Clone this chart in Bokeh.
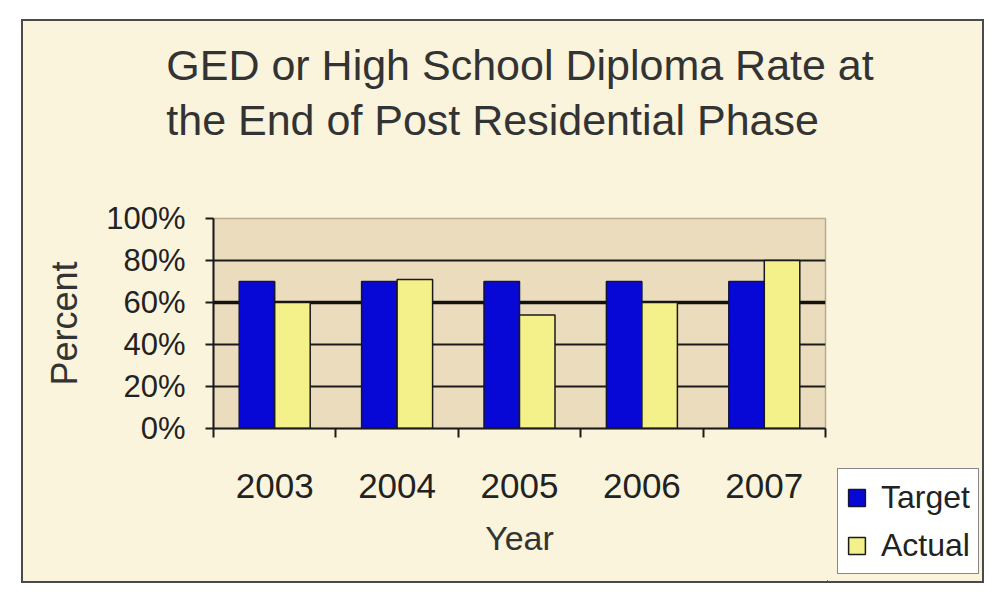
from bokeh.plotting import figure
from bokeh.layouts import row, column
from bokeh.models import (Range1d, FixedTicker, Grid, Legend, LegendItem,
                          ColumnDataSource, Spacer)
from bokeh.transform import dodge
from bokeh.embed import file_html
from bokeh.resources import INLINE

# ---- data ----
years = ["2003", "2004", "2005", "2006", "2007"]
target = [70, 70, 70, 70, 70]
actual = [60, 71, 54, 60, 80]
y_ticks = [0, 20, 40, 60, 80, 100]
title_lines = ["GED or High School Diploma Rate at",
               "the End of Post Residential Phase"]
series_names = ["Target", "Actual"]

FONT = "Liberation Sans"
CREAM = "#faf4dc"
BLUE = "#0707d6"
YELLOW = "#f4f08a"

pos = [i + 0.5 for i in range(len(years))]
src = ColumnDataSource(dict(x=pos, target=target, actual=actual, year=years))

# ---- title strip ----
top_gap = Spacer(width=959, height=17, styles={"background-color": CREAM})
t = figure(width=959, height=123, x_range=Range1d(0, 1), y_range=Range1d(0, 1),
           output_backend="svg", toolbar_location=None,
           x_axis_location=None, y_axis_location=None,
           min_border_left=34, min_border_right=0, min_border_top=0,
           min_border_bottom=0, background_fill_color=CREAM,
           border_fill_color=CREAM, outline_line_color=None)
t.frame_align = False
t.xgrid.grid_line_color = None
t.ygrid.grid_line_color = None
t.title.text = "\n".join(title_lines)
t.title.align = "center"
t.title.text_font = FONT
t.title.text_font_size = "43px"
t.title.text_font_style = "normal"
t.title.text_color = "#333333"
t.title.text_line_height = 1.16
t.title.standoff = 0

# ---- main chart ----
p = figure(width=804, height=420,
           x_range=Range1d(0, len(years)), y_range=Range1d(0, 100),
           output_backend="svg", toolbar_location=None, title_location=None,
           min_border_left=190, min_border_right=2,
           min_border_top=57, min_border_bottom=153,
           background_fill_color="#ecdcbe", border_fill_color=CREAM,
           outline_line_color="#b9aa8c", outline_line_width=1.5)
p.frame_align = False

r1 = p.vbar(x=dodge("x", -0.145, range=p.x_range), top="target", width=0.29,
            source=src, fill_color=BLUE, line_color="#15153a", line_width=1.5)
r2 = p.vbar(x=dodge("x", 0.145, range=p.x_range), top="actual", width=0.29,
            source=src, fill_color=YELLOW, line_color="#1a1a1a", line_width=1.5)

p.xgrid.grid_line_color = None
p.ygrid.ticker = FixedTicker(ticks=[20, 40, 80])
p.ygrid.grid_line_color = "#1a1a1a"
p.ygrid.grid_line_width = 2
g60 = Grid(dimension=1, ticker=FixedTicker(ticks=[60]),
           grid_line_color="#111111", grid_line_width=3.5)
p.add_layout(g60)

ya = p.yaxis[0]
ya.ticker = FixedTicker(ticks=y_ticks, minor_ticks=[])
ya.major_label_overrides = {v: f"{v}%" for v in y_ticks}
ya.axis_line_width = 2
ya.axis_line_color = "#1a1a1a"
ya.major_tick_line_width = 2
ya.major_tick_line_color = "#1a1a1a"
ya.major_tick_out = 8
ya.major_tick_in = 0
ya.major_label_standoff = 20
ya.major_label_text_font = FONT
ya.major_label_text_font_size = "31px"
ya.major_label_text_color = "#222222"
ya.axis_label = "Percent"
ya.axis_label_text_font = FONT
ya.axis_label_text_font_size = "36px"
ya.axis_label_text_font_style = "normal"
ya.axis_label_text_color = "#333333"
ya.axis_label_standoff = 18

xa = p.xaxis[0]
xa.ticker = FixedTicker(ticks=pos, minor_ticks=list(range(len(years) + 1)))
xa.major_label_overrides = {pos[i]: years[i] for i in range(len(years))}
xa.axis_line_width = 2
xa.axis_line_color = "#1a1a1a"
xa.major_tick_line_color = None
xa.major_tick_out = 0
xa.major_tick_in = 0
xa.minor_tick_line_color = "#1a1a1a"
xa.minor_tick_line_width = 2
xa.minor_tick_out = 9
xa.minor_tick_in = 0
xa.major_label_standoff = 36
xa.major_label_text_font = FONT
xa.major_label_text_font_size = "35px"
xa.major_label_text_color = "#222222"
xa.axis_label = "Year"
xa.axis_label_text_font = FONT
xa.axis_label_text_font_size = "34px"
xa.axis_label_text_font_style = "normal"
xa.axis_label_text_color = "#333333"
xa.axis_label_standoff = 18

# ---- legend panel (its own copies of the bars lie outside its ranges) ----
q = figure(width=155, height=420, x_range=Range1d(1000, 1001),
           y_range=Range1d(1000, 1001), output_backend="svg",
           toolbar_location=None, title_location=None,
           x_axis_location=None, y_axis_location=None,
           min_border_left=0, min_border_right=0, min_border_top=0,
           min_border_bottom=0, background_fill_color=CREAM,
           border_fill_color=CREAM, outline_line_color=None)
q.frame_align = False
q.xgrid.grid_line_color = None
q.ygrid.grid_line_color = None
lr1 = q.vbar(x=dodge("x", -0.145, range=q.x_range), top="target", width=0.29,
             source=src, fill_color=BLUE, line_color="#15153a", line_width=1.5)
lr2 = q.vbar(x=dodge("x", 0.145, range=q.x_range), top="actual", width=0.29,
             source=src, fill_color=YELLOW, line_color="#1a1a1a", line_width=1.5)

legend = Legend(items=[LegendItem(label=series_names[0], renderers=[lr1]),
                       LegendItem(label=series_names[1], renderers=[lr2])],
                location=(10, 7),
                border_line_color="#111111", border_line_width=1.5,
                background_fill_color="white", background_fill_alpha=1,
                label_text_font=FONT, label_text_font_size="32px",
                label_text_color="#222222",
                glyph_width=21, glyph_height=21, label_standoff=14,
                padding=8, spacing=8, margin=0, label_height=40)
q.add_layout(legend)

lay = column(top_gap, t, row(p, q), margin=(19, 0, 0, 21),
             styles={"border": "2px solid #4a4a4a", "background-color": CREAM})

open("out.html", "w").write(file_html(lay, INLINE))
